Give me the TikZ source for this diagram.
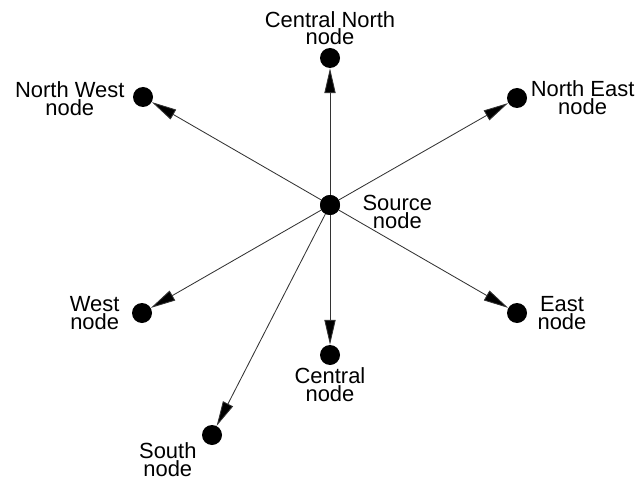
\documentclass[tikz,border=0pt]{standalone}
\usepackage{fontspec}
\setmainfont{Liberation Sans}
\usepackage{xcolor}
\usetikzlibrary{positioning,arrows.meta}
\definecolor{ink}{HTML}{000000}
\definecolor{wire}{HTML}{333333}
\tikzset{
  dot/.style={circle, fill=ink, inner sep=0pt, minimum size=0.5cm},
  lbl/.style={font=\fontsize{15.6}{12.6}\selectfont, align=center, inner sep=0pt, text=ink},
  ray/.style={wire, line width=0.6pt, -{Triangle[length=0.62cm, width=0.28cm, fill=ink]}}
}

\begin{document}
\begin{tikzpicture}
  \useasboundingbox (0,0) rectangle (15.975,11.975);
  % dots
  \node[dot] (src) at (8.25,6.85) {};
  \node[dot] (cn) at (8.25,10.525) {};
  \node[dot] (nw) at (3.575,9.55) {};
  \node[dot] (ne) at (12.925,9.525) {};
  \node[dot] (w) at (3.55,4.15) {};
  \node[dot] (e) at (12.925,4.15) {};
  \node[dot] (c) at (8.25,3.1) {};
  \node[dot] (s) at (5.3,1.1) {};
  % labels
  \node[lbl, right=0.55cm of src, yshift=-0.18cm] (srclbl) {Source\\node};
  \node[lbl, above=0.06cm of cn] (cnlbl) {Central North\\node};
  \node[lbl, left=0.2cm of nw, yshift=-0.05cm] (nwlbl) {North West\\node};
  \node[lbl, right=0.08cm of ne] (nelbl) {North East\\node};
  \node[lbl, left=0.3cm of w] (wlbl) {West\\node};
  \node[lbl, right=0.25cm of e] (elbl) {East\\node};
  \node[lbl, below=0.06cm of c] (clbl) {Central\\node};
  \node[lbl, below left=0cm and 0.2cm of s] (slbl) {South\\node};
  % rays
  \foreach \t in {cn,nw,ne,w,e,c,s}
    \draw[ray] (src.center) -- (\t);
  \node[dot] at (src) {};
\end{tikzpicture}
\end{document}
